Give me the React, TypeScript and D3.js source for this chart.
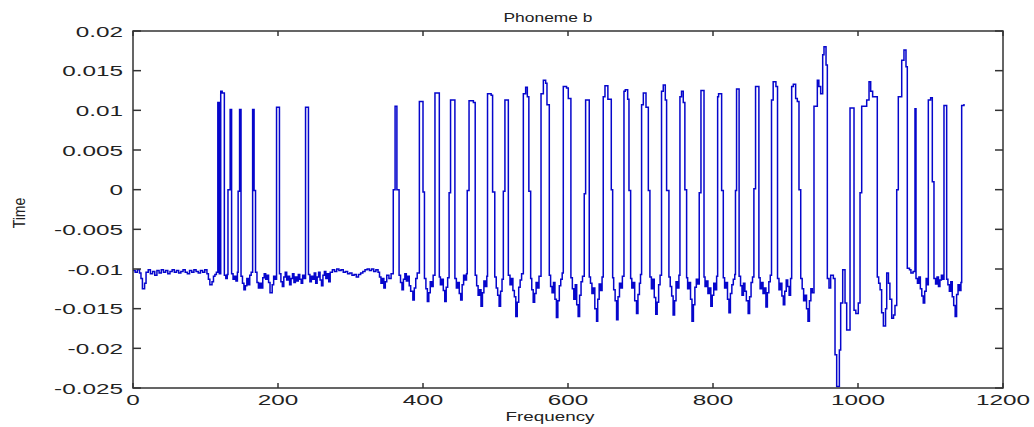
import React from 'react';
import * as d3 from 'd3';

const W = 1034;
const H = 427;
const PLOT = { left: 133, top: 31, right: 1003, bottom: 388 };

const chartTitle = 'Phoneme b';
const xLabel = 'Frequency';
const yLabel = 'Time';

const xTicks = [0, 200, 400, 600, 800, 1000, 1200];
const xTickLabels = ['0', '200', '400', '600', '800', '1000', '1200'];
const yTicks = [0.02, 0.015, 0.01, 0.005, 0, -0.005, -0.01, -0.015, -0.02, -0.025];
const yTickLabels = ['0.02', '0.015', '0.01', '0.005', '0', '-0.005', '-0.01', '-0.015', '-0.02', '-0.025'];

// [sample index, amplitude] step points
const quietLead: [number, number][] = [
  [0, -0.0102], [3, -0.0104], [6, -0.0101], [9, -0.0105], [11, -0.0112], [13, -0.0125], [16, -0.0118], [18, -0.0104],
  [21, -0.0101], [24, -0.0106], [27, -0.0103], [30, -0.0108], [33, -0.0102], [36, -0.0105], [39, -0.0101], [42, -0.0104],
  [45, -0.0102], [48, -0.0106], [51, -0.0103], [54, -0.0101], [57, -0.0104], [60, -0.0102], [63, -0.0105], [66, -0.0103],
  [69, -0.0101], [72, -0.0104], [75, -0.0106], [78, -0.0102], [81, -0.0104], [84, -0.0101], [87, -0.0103], [90, -0.0105],
  [93, -0.0102], [96, -0.0104], [99, -0.0101], [102, -0.0106], [104, -0.0113], [106, -0.012], [109, -0.0116], [111, -0.0109],
  [113, -0.0107], [115, -0.0104],
];

const firstBurst: [number, number][] = [
  [117, 0.011], [119, -0.0106], [121, 0.0124], [123, 0.0122], [126, -0.0108], [128, -0.0112], [130, -0.0107], [131, 0.0],
  [134, 0.0101], [136, -0.0106], [138, -0.0113], [140, -0.0109], [142, -0.0115], [144, -0.0104], [145, -0.0002], [147, 0.0101],
  [149, -0.0109], [151, -0.0118], [153, -0.0126], [155, -0.0121], [157, -0.0112], [159, -0.012], [161, -0.0108], [163, -0.0104],
  [165, 0.0101], [167, -0.0001], [169, -0.0104], [171, -0.0117], [173, -0.0124], [175, -0.0118], [177, -0.0124], [179, -0.0111],
  [181, -0.0106], [183, -0.0113], [185, -0.0108], [187, -0.0117], [189, -0.013], [192, -0.012], [194, -0.0109], [196, -0.0113],
  [198, 0.0104], [202, -0.0106], [204, -0.0116], [206, -0.0122], [208, -0.011], [210, -0.0104], [212, -0.0114], [214, -0.0109],
  [216, -0.012], [218, -0.0112], [220, -0.0106], [222, -0.0117], [224, -0.011], [226, -0.0115], [228, -0.0107], [230, -0.0113],
  [232, -0.0118], [234, -0.0108], [236, -0.0112], [238, 0.0104], [242, -0.0107], [244, -0.0116], [246, -0.0109], [248, -0.0113],
  [250, -0.0105],
];

const quietMid: [number, number][] = [
  [252, -0.0118], [254, -0.011], [256, -0.0104], [258, -0.0114], [260, -0.0121], [262, -0.0108], [264, -0.0103], [266, -0.0112],
  [268, -0.0106], [270, -0.0116], [272, -0.0104], [275, -0.0101], [278, -0.0103], [281, -0.01], [284, -0.0102], [287, -0.0101],
  [290, -0.0104], [293, -0.0103], [296, -0.0106], [299, -0.0105], [302, -0.0108], [305, -0.0107], [308, -0.011], [311, -0.0107],
  [314, -0.0105], [317, -0.0103], [320, -0.0101], [323, -0.01], [326, -0.0102], [329, -0.01], [332, -0.0103], [335, -0.0101],
  [338, -0.0104], [340, -0.011], [342, -0.0118], [344, -0.0112], [346, -0.0124], [348, -0.0116], [350, -0.0108], [353, -0.0112],
  [356, -0.0106],
];

const mainBurstA: [number, number][] = [
  [359, 0.0], [361.5, 0.0105], [364, 0.0], [367, -0.0108],
  [369, -0.0117], [371, -0.0126], [373, -0.0113], [375, -0.0106], [377, -0.0115], [379, -0.0109], [381, -0.0121], [383, -0.0128],
  [386, -0.0139], [388, -0.0124], [390, -0.0112], [392, -0.0105],
  [395, 0.0111], [400, -0.0003], [402, -0.0112],
  [404, -0.0125], [406, -0.0141], [408, -0.013], [410, -0.0116], [412, -0.0122], [414, -0.0108],
  [416.5, 0.0122], [422.5, -0.011],
  [424, -0.012], [426, -0.0113], [428, -0.0127], [430, -0.0141], [432, -0.0123], [434, -0.0111],
  [436, -0.0004], [438, 0.0113], [444, -0.0112],
  [446, -0.0124], [448, -0.0117], [450, -0.0131], [452, -0.0139], [454, -0.012], [456, -0.0108], [458, -0.0114], [460, -0.0106],
  [461, -0.0001], [463.5, 0.0112], [469.5, 0.011], [472, -0.0108],
  [474, -0.0121], [476, -0.0133], [478, -0.0126], [480, -0.0147], [482, -0.013], [484, -0.0115], [486, -0.0122], [488, -0.0109],
  [489, 0.0121], [494, 0.0119], [496, -0.0003], [499, -0.011],
  [501, -0.0124], [503, -0.0133], [505, -0.0147], [507, -0.0128], [509, -0.0113],
  [510.8, -0.0002], [513, 0.0113], [517.7, -0.0108],
  [520, -0.012], [522, -0.0112], [524, -0.0127], [526, -0.0135], [528, -0.016], [530, -0.0142], [532, -0.0123], [534, -0.0114],
  [536, -0.0106],
  [538.4, 0.0121], [541.6, 0.0129], [543.9, 0.0117], [546, -0.0002], [548.5, -0.0112],
  [550, -0.0126], [552, -0.0142], [554, -0.0131], [556, -0.0117], [558, -0.0124], [560, -0.0109],
  [562.8, 0.0121], [566, 0.0138], [569.2, 0.0134], [571, 0.0107], [574.2, -0.0108],
  [576, -0.0122], [578, -0.013], [580, -0.0117], [582, -0.0138], [584, -0.0161], [586, -0.014], [588, -0.0121], [590, -0.0113],
  [592, -0.0105],
  [593.5, 0.013], [598, 0.0128], [600.4, 0.0115], [604, -0.0111],
  [606, -0.0125], [608, -0.0138], [610, -0.012], [612, -0.0145], [614, -0.016], [616, -0.0133], [618, -0.0116], [620, -0.0109],
  [622.4, -0.0005], [624.3, 0.0113], [629.3, -0.011],
  [631, -0.0118], [633, -0.0131], [635, -0.0124], [637, -0.015], [639.4, -0.0166], [641, -0.0138], [643, -0.0119], [645, -0.0127],
  [647, -0.011],
];

const mainBurstB: [number, number][] = [
  [648.6, 0.0117], [651, 0.0131], [655, 0.0114], [659.7, 0.0], [661.6, -0.0111],
  [663, -0.0126], [665, -0.014], [667, -0.0164], [669, -0.0135], [671, -0.0118], [673, -0.0124], [675, -0.0109],
  [677.2, 0.0124], [679, 0.0126], [682.3, 0.0114], [684.1, -0.0001], [686.4, -0.0112],
  [688, -0.0124], [690, -0.0117], [692, -0.014], [694.5, -0.0156], [696.5, -0.0132], [698.5, -0.0118], [700, -0.0107],
  [701.5, 0.0107], [703.9, 0.0122], [707.6, 0.0104], [710.8, -0.0001], [713, -0.011],
  [715, -0.0125], [717, -0.0113], [719, -0.0136], [721, -0.0157], [723, -0.0142], [725, -0.012], [727, -0.0108],
  [729, 0.0124], [731.4, 0.0132], [734.2, 0.0113], [736, -0.0001], [739.2, -0.011],
  [741, -0.0122], [743, -0.0134], [745, -0.0158], [747, -0.014], [749, -0.0116], [751, -0.0124], [753, -0.0108],
  [754.4, 0.0117], [756.6, 0.0124], [759, 0.011], [761.2, 0.0], [763.6, -0.0111],
  [765, -0.0125], [767, -0.0117], [769, -0.0138], [771, -0.0166], [773, -0.0145], [775, -0.0123], [777, -0.0113], [779, -0.0119],
  [781, -0.0004], [783.4, 0.0125], [787.6, -0.011],
  [789, -0.0122], [791, -0.0115], [793, -0.0131], [795, -0.0124], [797, -0.0147], [799, -0.0133], [801, -0.0118], [803, -0.0126],
  [805, -0.0109],
  [806.4, 0.0117], [807.7, 0.0121], [811.9, -0.0001], [814.2, -0.0111],
  [816, -0.0124], [818, -0.0117], [820, -0.0138], [822, -0.0155], [824, -0.0131], [826, -0.012], [828, -0.0113], [830, -0.0107],
  [831, -0.0001], [832.5, 0.0127], [836, -0.0109],
  [838, -0.0121], [840, -0.0133], [842, -0.0118], [844, -0.0128], [846, -0.014], [848.5, -0.0156], [850.5, -0.0135], [852.5, -0.0117],
  [854.5, -0.011],
  [856.4, 0.0001], [858.7, 0.013], [863.3, -0.0111],
  [865, -0.0125], [867, -0.0117], [869, -0.0131], [871, -0.0124], [873, -0.0148], [875, -0.013], [877, -0.0116], [879, -0.0108],
  [880.7, 0.0113], [883, 0.0136], [886.8, 0.013], [889, -0.0112],
  [891, -0.0126], [893, -0.0118], [895, -0.0134], [897, -0.0145], [899, -0.0128], [901, -0.0114], [903, -0.0122], [905, -0.0133],
  [907, -0.0112],
  [908.5, 0.013], [910.8, 0.0133], [914, 0.0115], [916.3, 0.0111], [918.6, 0.0], [921, -0.0112],
  [923, -0.0125], [925, -0.014], [927, -0.0133], [929, -0.015], [931, -0.0166], [933, -0.014], [935, -0.0125], [937, -0.013],
];

const tail: [number, number][] = [
  [939.3, 0.0105], [943.9, 0.0138], [946, 0.013], [948.5, 0.0121], [951.3, 0.017], [953.1, 0.018], [955.9, 0.0157],
  [957.7, -0.0112], [960, -0.0124], [962.3, -0.0108], [966, -0.0112], [968.3, -0.0208], [970.6, -0.0248], [974.3, -0.0202],
  [976.1, -0.0143], [978.9, -0.0101], [982.1, -0.0143], [984.4, -0.0177], [989, 0.0103], [994.5, -0.0152], [997, -0.0156],
  [1000.4, -0.0143], [1002.8, -0.0004], [1005.1, 0.0105], [1012, 0.0113], [1015.2, 0.0136], [1017.5, 0.0124], [1020.2, 0.0117],
  [1026.6, -0.011], [1028.5, -0.0118], [1030.5, -0.0126], [1032.6, -0.0155], [1035, -0.0172], [1038, -0.015], [1039.6, -0.0105],
  [1042, -0.0118], [1044, -0.0138], [1046.5, -0.0162], [1049, -0.0158], [1051, -0.0146],
  [1053.4, 0.0], [1055.6, 0.0117], [1060.3, 0.0163], [1063.4, 0.0176], [1066.2, 0.0155], [1068, -0.0099], [1071, -0.0101],
  [1073, -0.0105], [1076, -0.0103], [1078.6, 0.0102], [1080, -0.0112], [1082, -0.0118], [1084, -0.011], [1086, -0.0125],
  [1088, -0.0134], [1090, -0.0143], [1092, -0.0128], [1094, -0.0112], [1096, -0.012], [1097, 0.0113], [1100.2, 0.0116],
  [1102.5, 0.001], [1104.8, -0.0112], [1107, -0.0119], [1109, -0.011], [1111, -0.0122], [1113, -0.0114], [1115, -0.0108],
  [1117, -0.0113], [1118.6, 0.0106], [1122.3, -0.0113], [1124, -0.012], [1126, -0.0128], [1128, -0.0116], [1130, -0.0135],
  [1132, -0.0146], [1134, -0.016], [1136, -0.0132], [1138, -0.012], [1140, -0.0127], [1142, -0.0117], [1143, 0.0106],
  [1146.2, 0.0108],
];

const FONT = '"Liberation Sans", Arial, Helvetica, sans-serif';
const SX = 1.62;

export default function App() {
  const x = d3.scaleLinear().domain([0, 1200]).range([PLOT.left, PLOT.right]);
  const y = d3.scaleLinear().domain([-0.025, 0.02]).range([PLOT.bottom, PLOT.top]);
  const data = [...quietLead, ...firstBurst, ...quietMid, ...mainBurstA, ...mainBurstB, ...tail];
  const line = d3
    .line<[number, number]>()
    .x((d) => x(d[0]))
    .y((d) => y(d[1]))
    .curve(d3.curveStepAfter);

  const axisColor = '#333';
  return (
    <svg width={W} height={H} style={{ position: 'absolute', left: 0, top: 0, background: '#fff' }}>
      <rect x={0} y={0} width={W} height={H} fill="#fff" />
      <path d={line(data) || ''} fill="none" stroke="#0606cc" strokeWidth={1.5} strokeLinejoin="miter" />
      <rect
        x={PLOT.left}
        y={PLOT.top}
        width={PLOT.right - PLOT.left}
        height={PLOT.bottom - PLOT.top}
        fill="none"
        stroke={axisColor}
        strokeWidth={1.5}
      />
      {xTicks.map((t, i) => (
        <g key={'xt' + i}>
          <line x1={x(t)} x2={x(t)} y1={PLOT.bottom} y2={PLOT.bottom - 5} stroke={axisColor} strokeWidth={1.5} />
          <line x1={x(t)} x2={x(t)} y1={PLOT.top} y2={PLOT.top + 5} stroke={axisColor} strokeWidth={1.5} />
          <g transform={`translate(${x(t)},${405}) scale(${SX},1)`}>
            <text textAnchor="middle" fontFamily={FONT} fontSize={15} fill="#222">
              {xTickLabels[i]}
            </text>
          </g>
        </g>
      ))}
      {yTicks.map((t, i) => (
        <g key={'yt' + i}>
          <line x1={PLOT.left} x2={PLOT.left + 8} y1={y(t)} y2={y(t)} stroke={axisColor} strokeWidth={1.5} />
          <line x1={PLOT.right} x2={PLOT.right - 8} y1={y(t)} y2={y(t)} stroke={axisColor} strokeWidth={1.5} />
          <g transform={`translate(${PLOT.left - 10},${y(t) + 5.5}) scale(${SX},1)`}>
            <text textAnchor="end" fontFamily={FONT} fontSize={15} fill="#222">
              {yTickLabels[i]}
            </text>
          </g>
        </g>
      ))}
      <g transform={`translate(548,22) scale(1.45,1)`}>
        <text textAnchor="middle" fontFamily={FONT} fontSize={12} fill="#222">
          {chartTitle}
        </text>
      </g>
      <g transform={`translate(550,421) scale(1.45,1)`}>
        <text textAnchor="middle" fontFamily={FONT} fontSize={13} fill="#222">
          {xLabel}
        </text>
      </g>
      <g transform={`translate(25,213) scale(1.2,1) rotate(-90)`}>
        <text textAnchor="middle" fontFamily={FONT} fontSize={14} fill="#222">
          {yLabel}
        </text>
      </g>
    </svg>
  );
}
